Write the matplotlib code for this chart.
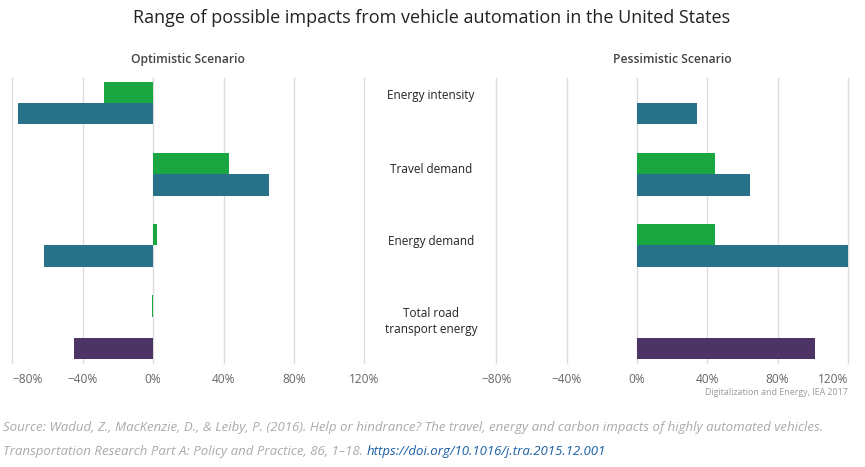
import matplotlib
matplotlib.use("Agg")
import matplotlib.pyplot as plt
import numpy as np

# ---- data ----
categories = ["Energy intensity", "Travel demand", "Energy demand", "Total road\ntransport energy"]
opt_green = [-28, 43, 2.3, -0.6]
opt_blue = [-77, 66, -62, np.nan]
opt_purple = [np.nan, np.nan, np.nan, -45]
pes_green = [np.nan, 44.5, 44.5, np.nan]
pes_blue = [34, 64, 120, np.nan]
pes_purple = [np.nan, np.nan, np.nan, 101]
xticks = [-80, -40, 0, 40, 80, 120]
xticklabels = ["\u221280%", "\u221240%", "0%", "40%", "80%", "120%"]

GREEN = "#1aa641"
BLUE = "#287289"
PURPLE = "#4c3464"

plt.rcParams['font.family'] = ['Open Sans', 'DejaVu Sans']

W, H = 865, 467
fig = plt.figure(figsize=(W / 100, H / 100), dpi=100)

def px_axes(x0, x1, ytop, ybot):
    return fig.add_axes([x0 / W, 1 - ybot / H, (x1 - x0) / W, (ybot - ytop) / H])

ax_l = px_axes(12.3, 364.3, 78, 363)
ax_r = px_axes(496.3, 848.0, 78, 363)

y = np.arange(len(categories))
bh = 0.3
for ax, g, b, p in [(ax_l, opt_green, opt_blue, opt_purple), (ax_r, pes_green, pes_blue, pes_purple)]:
    ax.barh(y - bh, g, height=bh, color=GREEN, zorder=3)
    ax.barh(y, b, height=bh, color=BLUE, zorder=3)
    ax.barh(y + bh, p, height=bh, color=PURPLE, zorder=3)
    ax.set_xlim(-80, 120)
    ax.set_ylim(3.5, -0.5)
    ax.set_xticks(xticks)
    ax.set_xticklabels(xticklabels)
    ax.set_yticks([])
    ax.tick_params(axis='x', length=0, pad=7.5, labelsize=8.6, labelcolor="#666666")
    for s in ax.spines.values():
        s.set_visible(False)
    ax.grid(axis='x', color="#dddddd", linewidth=1, zorder=0)
    for gl in ax.get_xgridlines():
        gl.set_clip_on(False)
    ax.set_axisbelow(True)

# keep edge labels inside the figure
ax_l.get_xticklabels()[0].set_ha('left')
ax_r.get_xticklabels()[-1].set_ha('right')

# center labels
label_offsets = [-0.26, -0.22, -0.2, -0.08]
for cat, yy, off in zip(categories, y, label_offsets):
    disp = ax_l.transData.transform((0, yy + off))
    fy = fig.transFigure.inverted().transform(disp)[1]
    fig.text(431 / W, fy, cat, ha='center', va='center', fontsize=8.5,
             color="#222222", linespacing=1.25)

fig.text(432 / W, 1 - 18 / H, "Range of possible impacts from vehicle automation in the United States",
         ha='center', va='center', fontsize=13, color="#222222")
fig.text(188 / W, 1 - 59 / H, "Optimistic Scenario", ha='center', va='center',
         fontsize=8.7, color="#444444", fontweight='semibold')
fig.text(672 / W, 1 - 59 / H, "Pessimistic Scenario", ha='center', va='center',
         fontsize=8.7, color="#444444", fontweight='semibold')
fig.text(848 / W, 1 - 392.5 / H, "Digitalization and Energy, IEA 2017", ha='right', va='center',
         fontsize=6.4, color="#999999")

src1 = ("Source: Wadud, Z., MacKenzie, D., & Leiby, P. (2016). Help or hindrance? "
        "The travel, energy and carbon impacts of highly automated vehicles.")
src2 = "Transportation Research Part A: Policy and Practice, 86, 1\u201318. "
link = "https://doi.org/10.1016/j.tra.2015.12.001"
fig.text(3 / W, 1 - 428 / H, src1, ha='left', va='center', fontsize=9.55,
         color="#aaaaaa", style='italic')
t2 = fig.text(3 / W, 1 - 452 / H, src2, ha='left', va='center', fontsize=9.55,
              color="#aaaaaa", style='italic')
fig.canvas.draw()
bb = t2.get_window_extent()
fig.text(bb.x1 / W, 1 - 452 / H, link, ha='left', va='center', fontsize=9.55,
         color="#1a5fa8", style='italic')

fig.savefig("out.png", dpi=100)
